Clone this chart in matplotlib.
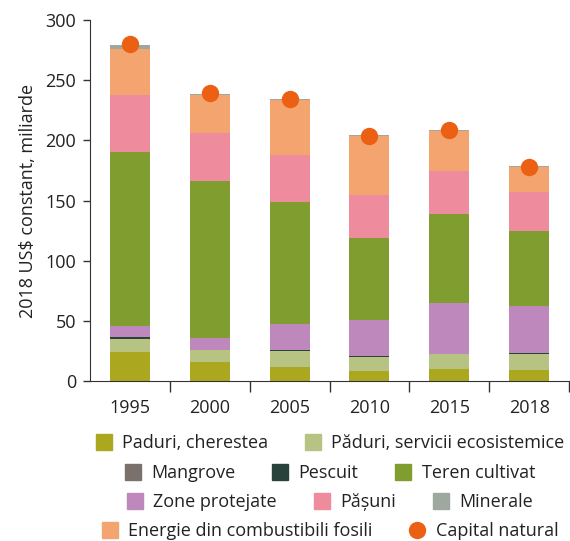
import matplotlib
matplotlib.use("Agg")
import matplotlib.pyplot as plt
from matplotlib.lines import Line2D
import numpy as np

plt.rcParams['font.family'] = ['Open Sans', 'DejaVu Sans']
FS = 13

years = ["1995", "2000", "2005", "2010", "2015", "2018"]

# stacked components, bottom to top (billions constant 2018 US$)
paduri_cherestea = [24.2, 15.7, 11.8, 8.3, 9.9, 9.1]
paduri_servicii = [10.8, 9.9, 13.2, 11.8, 12.4, 13.2]
mangrove = [0.0, 0.0, 0.0, 0.0, 0.0, 0.0]
pescuit = [1.4, 0.3, 1.0, 1.0, 0.3, 0.9]
zone_protejate = [9.3, 9.9, 21.4, 29.3, 42.0, 38.8]
teren_cultivat = [144.3, 130.2, 101.4, 68.6, 74.5, 63.0]
pasuni = [48.0, 40.0, 38.8, 35.5, 35.4, 32.0]
energie = [37.5, 31.4, 45.7, 49.0, 33.6, 20.7]
minerale = [3.8, 1.4, 0.7, 0.9, 0.5, 0.8]
capital_natural = [280, 239, 234, 204, 209, 178]

series = [
    ("Paduri, cherestea", paduri_cherestea, "#aba820"),
    ("Păduri, servicii ecosistemice", paduri_servicii, "#b6c383"),
    ("Mangrove", mangrove, "#7a716d"),
    ("Pescuit", pescuit, "#29433c"),
    ("Teren cultivat", teren_cultivat, "#7f9e2f"),
    ("Zone protejate", zone_protejate, "#be88bc"),
    ("Pășuni", pasuni, "#ee8b9c"),
    ("Minerale", minerale, "#9fa89f"),
    ("Energie din combustibili fosili", energie, "#f4a56f"),
]
# drawing order (bottom to top)
stack_order = ["Paduri, cherestea", "Păduri, servicii ecosistemice", "Mangrove", "Pescuit",
               "Zone protejate", "Teren cultivat", "Pășuni", "Energie din combustibili fosili", "Minerale"]
dot_color = "#ec6014"

fig = plt.figure(figsize=(5.70, 5.41), dpi=100)
ax = fig.add_axes([90 / 570, 160 / 541, 479 / 570, 361 / 541])

x = np.arange(len(years))
lookup = {name: (vals, col) for name, vals, col in series}
bottom = np.zeros(len(years))
for name in stack_order:
    vals, col = lookup[name]
    ax.bar(x, vals, 0.5, bottom=bottom, color=col, linewidth=0, zorder=2)
    bottom += np.array(vals)

ax.plot(x, capital_natural, "o", color=dot_color, markersize=11.5, zorder=3, clip_on=False)

ax.set_xlim(-0.5, 5.5)
ax.set_ylim(0, 300)
ax.set_yticks(range(0, 301, 50))
ax.set_xticks(x)
ax.set_xticklabels(years)
ax.set_xticks(np.arange(0.5, 6, 1), minor=True)
ax.tick_params(axis="x", which="major", length=0, pad=13, labelsize=FS, colors="#222222")
ax.tick_params(axis="x", which="minor", length=8, width=1, color="#333333")
ax.tick_params(axis="y", length=5, width=1, labelsize=FS, pad=5, color="#333333", labelcolor="#222222")
for s in ["top", "right"]:
    ax.spines[s].set_visible(False)
for s in ["left", "bottom"]:
    ax.spines[s].set_color("#333333")
ax.set_ylabel("2018 US$ constant, miliarde", fontsize=FS, color="#222222", labelpad=6)

# legend in four centred rows
colors = {name: col for name, vals, col in series}
rows = [
    ["Paduri, cherestea", "Păduri, servicii ecosistemice"],
    ["Mangrove", "Pescuit", "Teren cultivat"],
    ["Zone protejate", "Pășuni", "Minerale"],
    ["Energie din combustibili fosili", "Capital natural"],
]
row_y = [443, 473, 502, 531]
cx = (90 + 569) / 2 / 570
for names, yy in zip(rows, row_y):
    handles = []
    for n in names:
        if n == "Capital natural":
            handles.append(Line2D([], [], marker="o", linestyle="", color=dot_color, markersize=11.5))
        else:
            handles.append(Line2D([], [], marker="s", linestyle="", color=colors[n], markersize=11.5))
    leg = fig.legend(handles, names, loc="center", bbox_to_anchor=(cx, 1 - yy / 541),
                     ncol=len(names), frameon=False, fontsize=FS, handlelength=1.0,
                     handletextpad=0.5, columnspacing=2.0, borderpad=0, borderaxespad=0)
    for t in leg.get_texts():
        t.set_color("#222222")

fig.savefig("out.png", dpi=100)
